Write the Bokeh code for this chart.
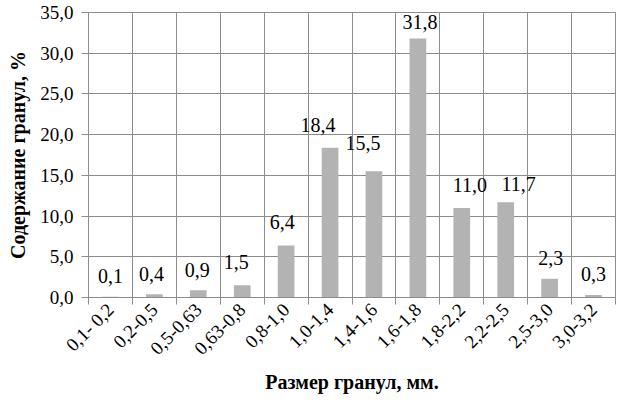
import math
from bokeh.plotting import figure
from bokeh.models import (Range1d, FixedTicker, CustomJSTickFormatter,
                          ColumnDataSource, LabelSet)
from bokeh.core.properties import value
from bokeh.embed import file_html
from bokeh.resources import INLINE

# ---- data -------------------------------------------------------------
categories = ["0,1- 0,2", "0,2-0,5", "0,5-0,63", "0,63-0,8", "0,8-1,0",
              "1,0-1,4", "1,4-1,6", "1,6-1,8", "1,8-2,2", "2,2-2,5",
              "2,5-3,0", "3,0-3,2"]
values = [0.1, 0.4, 0.9, 1.5, 6.4, 18.4, 15.5, 31.8, 11.0, 11.7, 2.3, 0.3]
y_ticks = [0, 5, 10, 15, 20, 25, 30, 35]

x_title = "Размер гранул, мм."
y_title = "Содержание гранул, %"

# manual nudges of the data labels in the original (screen pixels)
label_dx = [0, -3, -1, -6, -4, -12, -11, 2, 8, 13, 1, 0]
label_dy = [13.5, 13, 13.5, 16, 16.5, 15.5, 21, 9.5, 16, 11.5, 14, 14]

# ---- styling ----------------------------------------------------------
FONT = "Liberation Serif"
GRID = "#8c8c8c"
BAR = "#b3b3b3"

n = len(categories)
centers = [i + 0.5 for i in range(n)]
boundaries = list(range(n + 1))

src = ColumnDataSource(dict(
    x=centers, top=values,
    label=[f"{v:.1f}".replace(".", ",") for v in values],
    dx=label_dx, dy=label_dy,
))

p = figure(width=617, height=396,
           x_range=Range1d(0, n), y_range=Range1d(0, 35),
           output_backend="svg", toolbar_location=None,
           min_border_left=88, min_border_right=2,
           min_border_top=12, min_border_bottom=80)

p.outline_line_color = GRID

p.vbar(x="x", top="top", width=0.38, bottom=0, source=src,
       fill_color=BAR, line_color=None)

labels = LabelSet(x="x", y="top", text="label", source=src,
                  x_offset="dx", y_offset="dy",
                  text_align="center", text_baseline="alphabetic",
                  text_font=value(FONT), text_font_size="20px",
                  text_color="black")
p.add_layout(labels)

# x axis: labels at centres, tick marks at category boundaries
xax = p.xaxis[0]
xax.ticker = FixedTicker(ticks=centers, minor_ticks=boundaries)
xax.major_label_overrides = {c: lab for c, lab in zip(centers, categories)}
xax.major_label_orientation = math.pi / 4
xax.major_tick_line_color = None
xax.minor_tick_in = 0
xax.minor_tick_out = 7
xax.minor_tick_line_color = GRID
xax.axis_line_color = GRID
xax.major_label_text_font = FONT
xax.major_label_text_font_size = "19px"
xax.major_label_text_color = "black"
xax.major_label_standoff = 2
xax.axis_label = x_title
xax.axis_label_text_font = FONT
xax.axis_label_text_font_style = "bold"
xax.axis_label_text_font_size = "20px"
xax.axis_label_text_color = "black"
xax.axis_label_standoff = 2

yax = p.yaxis[0]
yax.ticker = FixedTicker(ticks=y_ticks)
yax.formatter = CustomJSTickFormatter(
    code="return tick.toFixed(1).replace('.', ',');")
yax.major_tick_in = 0
yax.major_tick_out = 7
yax.major_tick_line_color = GRID
yax.minor_tick_line_color = None
yax.axis_line_color = GRID
yax.major_label_text_font = FONT
yax.major_label_text_font_size = "19px"
yax.major_label_text_color = "black"
yax.major_label_standoff = 8
yax.axis_label = y_title
yax.axis_label_text_font = FONT
yax.axis_label_text_font_style = "bold"
yax.axis_label_text_font_size = "20px"
yax.axis_label_text_color = "black"
yax.axis_label_standoff = 8

p.xgrid.grid_line_color = None
p.xgrid.minor_grid_line_color = GRID
p.ygrid.grid_line_color = GRID

open("out.html", "w").write(file_html(p, INLINE))
